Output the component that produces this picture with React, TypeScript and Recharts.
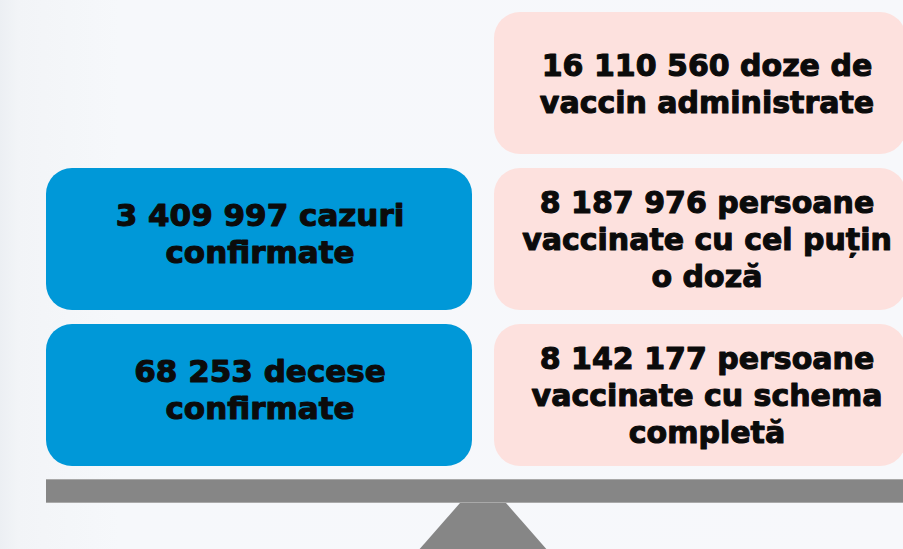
import React from 'react';
import { BarChart, Bar, XAxis, YAxis, Customized } from 'recharts';

// ---- data ----
const rowKeys = ['row1', 'row2', 'row3'];
const covidValues: (number | null)[] = [null, 3409997, 68253];
const covidWords: string[][] = [[], ['cazuri', 'confirmate'], ['decese', 'confirmate']];
const vaccineValues: number[] = [16110560, 8187976, 8142177];
const vaccineWords: string[][] = [
  ['doze de', 'vaccin administrate'],
  ['persoane', 'vaccinate cu cel puțin', 'o doză'],
  ['persoane', 'vaccinate cu schema', 'completă'],
];

const fmt = (v: number) => String(v).replace(/\B(?=(\d{3})+(?!\d))/g, ' ');

const buildLines = (v: number | null, words: string[]) =>
  v == null ? [] : [`${fmt(v)} ${words[0]}`, ...words.slice(1)];

const data = rowKeys.map((k, i) => ({
  row: k,
  covid: covidValues[i] == null ? null : [0, 1],
  vaccine: [1, 2],
  covidLines: buildLines(covidValues[i], covidWords[i]),
  vaccineLines: buildLines(vaccineValues[i], vaccineWords[i]),
}));

const BLUE = '#0098d8';
const PINK = '#fde1de';
const GRAY = '#868686';

const Panel = (props: any) => {
  const { x, y, width, height, payload, side } = props;
  const lines: string[] = side === 'left' ? payload.covidLines : payload.vaccineLines;
  if (!lines || lines.length === 0) return null;
  const bx = side === 'left' ? x : x + 11;
  const bw = side === 'left' ? width - 11 : width - 25;
  const cx = side === 'left' ? bx + bw / 2 + 1 : bx + bw / 2 + 7;
  const cy = y + height / 2 + (side === 'left' ? 5 : 11);
  const lh = 37;
  const fs = side === 'left' ? 31 : 30;
  return (
    <g>
      <rect x={bx} y={y} width={bw} height={height} rx={26} ry={26} fill={side === 'left' ? BLUE : PINK} />
      <text
        textAnchor="middle"
        fontFamily="'DejaVu Sans', sans-serif"
        fontWeight="bold"
        fontSize={fs}
        fill="#0b0b0b"
        stroke="#0b0b0b"
        strokeWidth={1.1}
        strokeLinejoin="round"
      >
        {lines.map((t, i) => (
          <tspan key={i} x={cx} y={cy + (i - (lines.length - 1) / 2) * lh}>
            {t}
          </tspan>
        ))}
      </text>
    </g>
  );
};

const Seesaw = () => (
  <g>
    <polygon points="460,503 506,503 556,560 410,560" fill={GRAY} />
    <rect x={46} y={479} width={880} height={24} fill={GRAY} />
    <line x1={46} x2={926} y1={479.5} y2={479.5} stroke="#a9a9a9" strokeWidth={1} />
    <line x1={46} x2={926} y1={502.5} y2={502.5} stroke="#a9a9a9" strokeWidth={1} />
  </g>
);

export default function App() {
  return (
    <div
      style={{
        position: 'absolute',
        left: 0,
        top: 0,
        width: 903,
        height: 549,
        overflow: 'hidden',
        background: 'linear-gradient(90deg, #eceff3 0px, #f2f4f7 18px, #f6f8fb 120px, #f7f8fb 100%)',
      }}
    >
      <BarChart
        width={920}
        height={549}
        data={data}
        layout="vertical"
        margin={{ top: 5, right: 0, bottom: 76, left: 46 }}
        barSize={142}
        barGap={-142}
      >
        <XAxis type="number" domain={[0, 2]} hide />
        <YAxis type="category" dataKey="row" hide width={0} />
        <Customized component={Seesaw} />
        <Bar dataKey="covid" isAnimationActive={false} shape={(p: any) => <Panel {...p} side="left" />} />
        <Bar dataKey="vaccine" isAnimationActive={false} shape={(p: any) => <Panel {...p} side="right" />} />
      </BarChart>
    </div>
  );
}
